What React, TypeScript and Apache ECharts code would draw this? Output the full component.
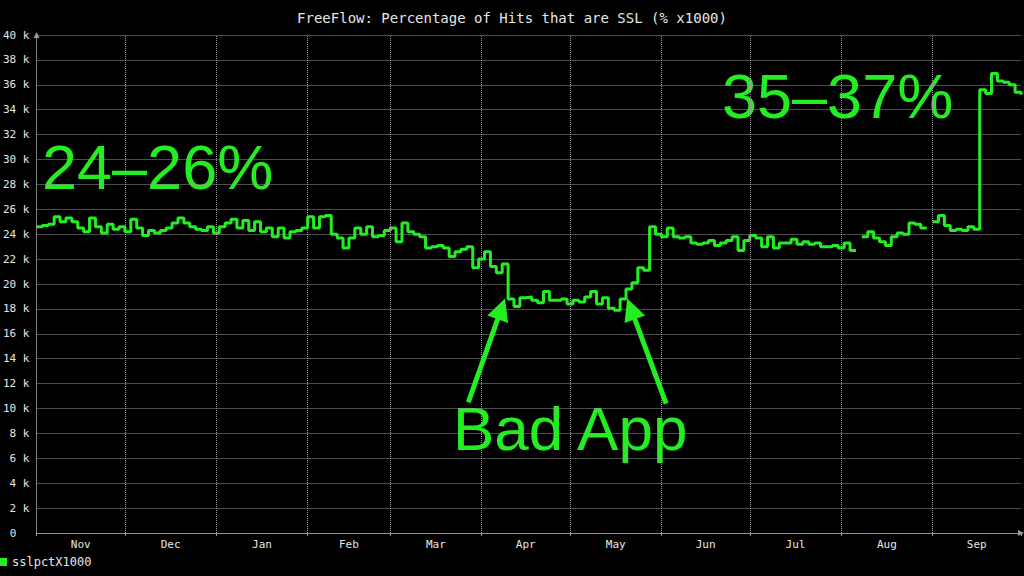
import React, { useEffect, useRef } from 'react';
import * as echarts from 'echarts';

const chartTitle = 'FreeFlow: Percentage of Hits that are SSL (% x1000)';
const seriesName = 'sslpctX1000';
const monthNames = ['Nov', 'Dec', 'Jan', 'Feb', 'Mar', 'Apr', 'May', 'Jun', 'Jul', 'Aug', 'Sep'];
// day offsets (from Nov 1) at which each month starts; last entry = Oct 1 (end of plot)
const monthStarts = [0, 30, 61, 92, 120, 151, 181, 212, 242, 273, 304, 334];
const sampleStepDays = 2;
// percentage of SSL hits x1000, in thousands, one sample every 2 days from Nov 1 (null = no data)
const sslValues: (number | null)[] = [
  24.6, 24.7, 24.8, 25.4, 25.0, 25.3, 25.0, 24.5, 24.2, 25.3,
  24.6, 24.1, 24.8, 24.4, 24.6, 24.2, 25.2, 24.5, 23.9, 24.3,
  24.1, 24.3, 24.5, 24.9, 25.3, 24.9, 24.6, 24.4, 24.3, 24.6,
  24.1, 24.6, 24.9, 25.2, 24.5, 25.1, 24.3, 25.0, 24.2, 24.5,
  23.8, 24.5, 23.7, 24.2, 24.3, 24.5, 25.4, 24.5, 25.4, 25.5,
  24.0, 23.7, 22.9, 23.7, 24.5, 24.0, 24.6, 23.8, 23.9, 24.3,
  24.5, 23.4, 24.9, 24.2, 24.0, 23.8, 22.9, 23.0, 23.1, 22.9,
  22.2, 22.6, 22.8, 23.0, 21.3, 22.0, 22.6, 21.4, 20.9, 21.6,
  18.8, 18.2, 18.9, 18.95, 18.7, 18.5, 19.4, 18.7, 18.7, 18.8,
  18.4, 18.7, 18.55, 18.95, 19.4, 18.4, 18.9, 18.05, 17.9, 18.8,
  19.6, 20.1, 21.3, 21.1, 24.6, 24.0, 23.8, 24.5, 23.8, 23.7,
  23.8, 23.3, 23.2, 23.3, 23.5, 23.1, 23.3, 23.5, 23.8, 22.7,
  23.5, 23.9, 23.7, 23.0, 23.8, 22.9, 23.3, 23.3, 23.6, 23.2,
  23.4, 23.2, 23.3, 23.0, 23.0, 23.1, 22.9, 23.3, 22.7, null,
  23.8, 24.2, 23.7, 23.4, 23.1, 23.8, 24.1, 24.0, 24.9, 24.8,
  24.5, null, 25.0, 25.5, 24.7, 24.3, 24.4, 24.3, 24.6, 24.4,
  35.6, 35.3, 36.9, 36.3, 36.2, 36.0, 35.4, 35.2,
];
// annotation arrows: [day, value(k)]
const arrowTails = [[146.5, 10.5], [213.6, 10.4]];
const arrowTips = [[157.7, 18.0], [201.7, 18.0]];
const annotationTexts = ['24–26%', '35–37%', 'Bad App'];

const GREEN = '#22ee22';
const GRID = '#9a9a9a';
const TEXT = '#e6e6e6';
const MONO = '"DejaVu Sans Mono", monospace';
const SANS = '"Liberation Sans", Arial, sans-serif';

export default function App() {
  const ref = useRef<HTMLDivElement>(null);
  useEffect(() => {
    if (!ref.current) return;
    const chart = echarts.init(ref.current, null, { renderer: 'svg' });
    const midMonths = monthStarts.slice(0, -1).map((d, i) => (d + monthStarts[i + 1]) / 2);
    const lineData = sslValues.map((v, i) => [i * sampleStepDays, v]);
    chart.setOption({
      animation: false,
      backgroundColor: '#000',
      title: {
        text: chartTitle,
        left: 'center',
        top: 6,
        textStyle: { color: TEXT, fontFamily: MONO, fontSize: 14, fontWeight: 'normal' },
      },
      legend: {
        data: [{ name: seriesName, icon: 'rect' }],
        left: 0,
        top: 556,
        padding: 0,
        itemWidth: 7,
        itemHeight: 8,
        itemGap: 6,
        textStyle: { color: TEXT, fontFamily: MONO, fontSize: 12 },
      },
      grid: { left: 35, right: 3, top: 35, bottom: 43 },
      xAxis: {
        type: 'value',
        min: 0,
        max: monthStarts[monthStarts.length - 1],
        axisLine: {
          show: true,
          lineStyle: { color: GRID, type: 'dotted' },
          symbol: ['none', 'triangle'],
          symbolSize: [6, 6],
        },
        axisTick: { show: true, customValues: monthStarts, length: 3, lineStyle: { color: GRID } },
        axisLabel: {
          customValues: midMonths,
          formatter: (v: number) => {
            const i = midMonths.findIndex((m) => Math.abs(m - v) < 0.01);
            return i >= 0 ? monthNames[i] : '';
          },
          color: TEXT,
          fontFamily: MONO,
          fontSize: 11,
          margin: 6,
        },
        splitLine: { show: false },
      },
      yAxis: {
        type: 'value',
        min: 0,
        max: 40,
        interval: 2,
        axisLine: {
          show: true,
          lineStyle: { color: GRID, type: 'dotted' },
          symbol: ['none', 'triangle'],
          symbolSize: [6, 6],
        },
        axisTick: { show: false },
        axisLabel: {
          formatter: (v: number) => (v === 0 ? '{z|0}' : `${v} k`),
          rich: { z: { color: TEXT, fontFamily: MONO, fontSize: 11, padding: [0, 13, 0, 0] } },
          color: TEXT,
          fontFamily: MONO,
          fontSize: 11,
          margin: 7,
        },
        splitLine: { show: true, lineStyle: { color: GRID, type: 'dotted', width: 1 } },
      },
      series: [
        {
          name: seriesName,
          type: 'line',
          step: 'end',
          data: lineData,
          showSymbol: false,
          connectNulls: false,
          lineStyle: { color: GREEN, width: 3 },
          itemStyle: { color: GREEN },
          markLine: {
            silent: true,
            symbol: ['none', 'none'],
            label: { show: false },
            lineStyle: { color: GRID, type: 'dotted', width: 1 },
            data: monthStarts.slice(1, -1).map((d) => ({ xAxis: d })),
          },
          z: 3,
        },
        {
          name: 'arrows',
          type: 'lines',
          coordinateSystem: 'cartesian2d',
          silent: true,
          symbol: ['none', 'triangle'],
          symbolSize: [20, 22],
          lineStyle: { color: GREEN, width: 5, opacity: 1 },
          data: arrowTails.map((t, i) => ({ coords: [t, arrowTips[i]] })),
          z: 4,
        },
      ],
      graphic: [
        {
          type: 'text',
          left: 42,
          top: 135,
          style: { text: annotationTexts[0], fill: GREEN, font: `63px ${SANS}` },
        },
        {
          type: 'text',
          left: 722,
          top: 64,
          style: { text: annotationTexts[1], fill: GREEN, font: `63px ${SANS}` },
        },
        {
          type: 'text',
          left: 453,
          top: 397,
          style: { text: annotationTexts[2], fill: GREEN, font: `62px ${SANS}` },
        },
      ],
    });
    return () => chart.dispose();
  }, []);
  return (
    <div
      ref={ref}
      style={{ position: 'absolute', left: 0, top: 0, width: 1024, height: 576, background: '#000' }}
    />
  );
}
